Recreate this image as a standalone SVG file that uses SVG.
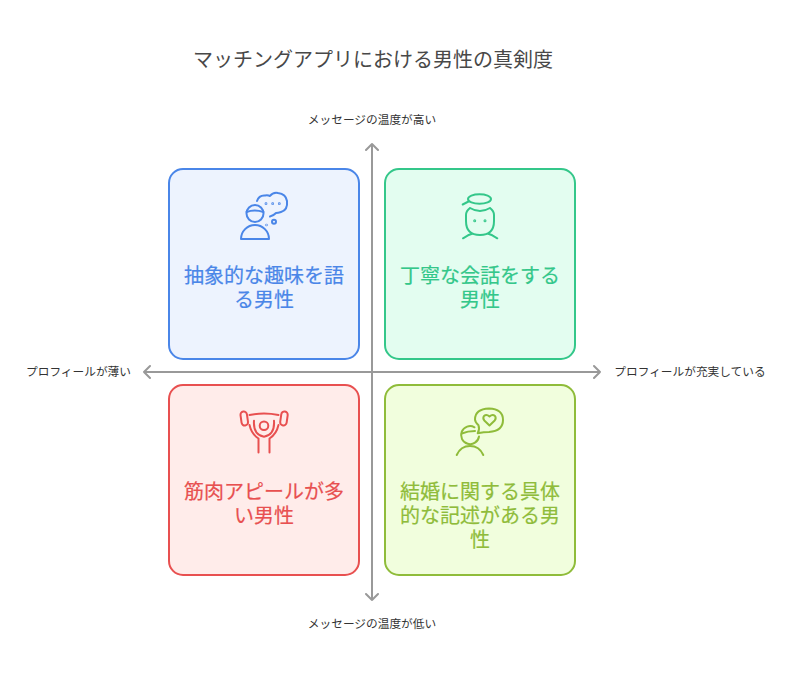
<svg xmlns="http://www.w3.org/2000/svg" width="792" height="684" viewBox="0 0 792 684">
<style>
text{font-family:"Noto Sans CJK JP","Noto Sans",sans-serif;text-anchor:middle}
.t{font-size:20px;fill:#484848}
.a{font-size:11.7px;fill:#333}
.l{font-size:20px;stroke-width:.2}
.box{stroke-width:2}
.ic{fill:none;stroke-width:2;stroke-linecap:round;stroke-linejoin:round}
.ax{fill:none;stroke:#999;stroke-width:2;stroke-linecap:round;stroke-linejoin:round}
.b{stroke:#4a86e8}.g{stroke:#34c78a}.r{stroke:#e85050}.y{stroke:#8fbc3a}
</style>
<rect width="792" height="684" fill="#fff"/>
<text id="title" class="t" x="373" y="67">マッチングアプリにおける男性の真剣度</text>
<g id="connectors">
<path class="ax" d="M372 600V144M366 150l6-6 6 6M372 600l-6-6M372 600l6-6"/>
<path class="ax" d="M144 372H600M150 366l-6 6 6 6M594 366l6 6-6 6"/>
</g>
<g id="label-top"><text class="a" x="372" y="123.500">メッセージの温度が高い</text></g>
<g id="label-bottom"><text class="a" x="372" y="627.500">メッセージの温度が低い</text></g>
<g id="label-left"><text class="a" x="78.500" y="375.500">プロフィールが薄い</text></g>
<g id="label-right"><text class="a" x="690" y="375.500">プロフィールが充実している</text></g>
<g id="node-blue">
<rect class="box b" x="169" y="169" width="190" height="190" rx="14" fill="#edf3fe"/>
<g class="ic b">
<circle cx="255" cy="213.500" r="8.500"/><path d="M246.500 212q8-3 17 0"/>
<path d="M241 239a14 14 0 0 1 28 0z"/>
<path d="M257 201q2-6 8-5.500 3-.5 5 .5 3-4 8-3 8 1 9 8 1 9-6 11-3 1-5 1-3 3-6 3.500"/>
<circle cx="274" cy="221.800" r="2"/>
<circle cx="266" cy="203.700" r=".4" fill="#4a86e8"/><circle cx="272.700" cy="203.700" r=".4" fill="#4a86e8"/><circle cx="279.300" cy="203.700" r=".4" fill="#4a86e8"/><circle cx="266.500" cy="225" r=".3" fill="#4a86e8"/>
</g>
<text class="l b" fill="#4a86e8" x="264" y="283">抽象的な趣味を語</text>
<text class="l b" fill="#4a86e8" x="264" y="307">る男性</text>
</g>
<g id="node-green">
<rect class="box g" x="385" y="169" width="190" height="190" rx="14" fill="#e3fdf0"/>
<g class="ic g">
<ellipse cx="479.500" cy="199" rx="11.500" ry="4.800"/><path d="M468.500 201.500l-5.800 3"/>
<path d="M470 208q-4 3-4 7v6q0 14 14 14 14 0 14-14v-6q0-4-4-7M470 208q10 6 20 0"/>
<path d="M463 238.300l5-3 4-1.500M497.300 238.300l-5-3-4-1.500"/>
<circle cx="474.700" cy="220.700" r=".5" fill="#34c78a"/><circle cx="485" cy="220.700" r=".5" fill="#34c78a"/>
</g>
<text class="l g" fill="#34c78a" x="480" y="283">丁寧な会話をする</text>
<text class="l g" fill="#34c78a" x="480" y="307">男性</text>
</g>
<g id="node-red">
<rect class="box r" x="169" y="385" width="190" height="190" rx="14" fill="#ffecea"/>
<g class="ic r">
<rect x="241" y="411.500" width="6.500" height="14" rx="3.200" transform="rotate(-8 244.300 418.500)"/>
<rect x="280.700" y="411.500" width="6.500" height="14" rx="3.200" transform="rotate(8 284 418.500)"/>
<path d="M249.500 415q14.500-3 29 0"/>
<circle cx="264" cy="425.700" r="4.300"/>
<path d="M254 420.700q-1 14 10 16 11-2 10-16M249.500 425q2 9 9 13.500v14M278.500 425q-2 9-9 13.500v14"/>
</g>
<text class="l r" fill="#e85050" x="264" y="499">筋肉アピールが多</text>
<text class="l r" fill="#e85050" x="264" y="523">い男性</text>
</g>
<g id="node-olive">
<rect class="box y" x="385" y="385" width="190" height="190" rx="14" fill="#f1fedd"/>
<g class="ic y">
<path d="M474.500 427.300A9 9 0 1 0 479 436.500"/>
<path d="M461.700 433.500q6-2.500 13.300-2.500"/>
<path d="M456.700 455q4-9 13.300-9 9.300 0 13.300 9"/>
<path d="M477.700 433.300q2.300-4 .8-8Q475 422 475 419.500 475 409 489 408.500 503 409 503 420 503 431 489 432q-5 0-11.300 1.300z"/>
<path d="M489.500 425.500l-5.200-5q-1.800-2.500-.3-4.500 2.500-2.200 5.500.5 3-2.700 5.500-.5 1.500 2 -.3 4.500z"/>
</g>
<text class="l y" fill="#8fbc3a" x="480" y="499">結婚に関する具体</text>
<text class="l y" fill="#8fbc3a" x="480" y="523">的な記述がある男</text>
<text class="l y" fill="#8fbc3a" x="480" y="547">性</text>
</g>
</svg>
